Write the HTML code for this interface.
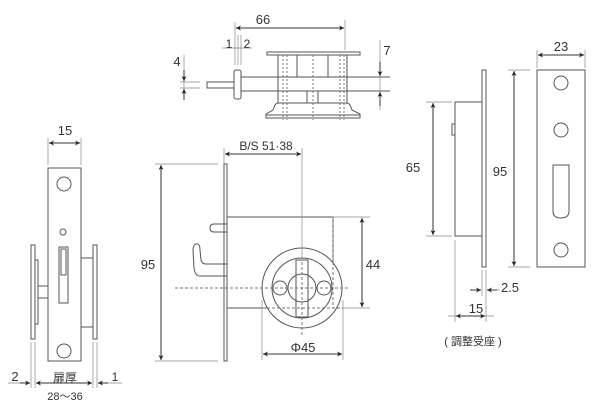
<!DOCTYPE html>
<html><head><meta charset="utf-8"><style>
html,body{margin:0;padding:0;background:#fff;}
svg{display:block;}
text{font-family:"Liberation Sans","Noto Sans CJK JP",sans-serif;fill:#333;}
</style></head><body>
<svg width="600" height="407" viewBox="0 0 600 407" xmlns="http://www.w3.org/2000/svg">
<defs>
<marker id="a" viewBox="0 0 10 10" refX="10" refY="5" markerWidth="7" markerHeight="5" orient="auto-start-reverse" markerUnits="userSpaceOnUse"><path d="M0,0 L10,5 L0,10 L3,5 z" fill="#222"/></marker>
</defs>
<g fill="none" stroke="#555" stroke-width="1">
<!-- TOP VIEW -->
<rect x="267" y="52" width="93" height="3" fill="#fff"/>
<rect x="278" y="55" width="69" height="48"/>
<line x1="297" y1="55" x2="297" y2="77"/><line x1="328" y1="55" x2="328" y2="77"/>
<line x1="307" y1="91" x2="307" y2="103"/><line x1="318" y1="91" x2="318" y2="103"/>
<path d="M266,118 L360,118 L360,114 L352,110 L350,105 Q349,103 346,103 L279,103 Q276,103 275,105 L273,110 L266,114 Z"/>
<line x1="266" y1="115" x2="360" y2="115"/>
<rect x="207" y="82" width="27" height="6"/>
<rect x="234" y="70" width="7" height="29" rx="2"/>
<line x1="241" y1="77" x2="390" y2="77"/><line x1="241" y1="91" x2="390" y2="91"/>
<g stroke-dasharray="2,2" stroke="#777">
<line x1="283" y1="55" x2="283" y2="120"/><line x1="287" y1="55" x2="287" y2="120"/>
<line x1="313" y1="55" x2="313" y2="120"/>
<line x1="340" y1="55" x2="340" y2="120"/><line x1="344" y1="55" x2="344" y2="120"/>
</g>
<!-- top dims -->
<g stroke="#888" stroke-width="0.7">
<line x1="235" y1="22" x2="235" y2="65"/><line x1="345" y1="20" x2="345" y2="50"/>
<line x1="238" y1="35" x2="238" y2="65"/><line x1="241" y1="35" x2="241" y2="65"/>
<line x1="222" y1="48" x2="252" y2="48"/>
<line x1="180" y1="82" x2="200" y2="82"/><line x1="180" y1="88" x2="200" y2="88"/>
<line x1="184" y1="55" x2="184" y2="100"/>
<line x1="380" y1="40" x2="380" y2="110"/>
</g>
<line x1="236" y1="28" x2="344" y2="28" stroke="#333" marker-start="url(#a)" marker-end="url(#a)"/>
<line x1="184" y1="70" x2="184" y2="81" stroke="#333" marker-end="url(#a)"/>
<line x1="184" y1="100" x2="184" y2="89" stroke="#333" marker-end="url(#a)"/>
<line x1="380" y1="62" x2="380" y2="76" stroke="#333" marker-end="url(#a)"/>
<line x1="380" y1="106" x2="380" y2="92" stroke="#333" marker-end="url(#a)"/>

<!-- FRONT VIEW -->
<rect x="224" y="164" width="3" height="197"/>
<rect x="227" y="217" width="106" height="91"/>
<path d="M227,224 L214,224 Q210,224 210,228 Q210,232 214,232 L227,232"/>
<path d="M227,264 L206,264 Q202,264 201,260 L200,250 Q200,243 196,244 Q193,245 193,250 L194,268 Q195,276 200,276 L227,276"/>
<circle cx="302" cy="288" r="40" fill="#fff"/>
<circle cx="302" cy="288" r="30"/>
<circle cx="302" cy="288" r="14"/>
<circle cx="280" cy="288" r="7"/>
<circle cx="324" cy="288" r="7"/>
<rect x="296" y="260" width="12" height="57"/>
<g stroke-dasharray="3,2" stroke="#777">
<line x1="175" y1="288" x2="350" y2="288"/>
<line x1="302" y1="262" x2="302" y2="335"/>
<line x1="333" y1="217" x2="333" y2="308"/>
<line x1="262" y1="308" x2="343" y2="308"/>
</g>
<g stroke="#888" stroke-width="0.7">
<line x1="302" y1="148" x2="302" y2="260"/>
<line x1="224" y1="148" x2="224" y2="164"/>
<line x1="155" y1="164" x2="218" y2="164"/><line x1="155" y1="361" x2="218" y2="361"/>
<line x1="333" y1="217" x2="370" y2="217"/><line x1="343" y1="308" x2="370" y2="308"/>
<line x1="262" y1="300" x2="262" y2="360"/><line x1="343" y1="300" x2="343" y2="360"/>
</g>
<line x1="225" y1="154" x2="301" y2="154" stroke="#333" marker-start="url(#a)" marker-end="url(#a)"/>
<line x1="161" y1="165" x2="161" y2="360" stroke="#333" marker-start="url(#a)" marker-end="url(#a)"/>
<line x1="362" y1="218" x2="362" y2="307" stroke="#333" marker-start="url(#a)" marker-end="url(#a)"/>
<line x1="263" y1="354" x2="342" y2="354" stroke="#333" marker-start="url(#a)" marker-end="url(#a)"/>

<!-- LEFT VIEW -->
<rect x="48" y="168" width="33" height="193"/>
<circle cx="64" cy="184" r="7"/><circle cx="64" cy="351" r="7"/>
<circle cx="63" cy="232" r="3"/>
<rect x="59" y="247" width="9" height="56"/>
<rect x="61" y="249" width="5" height="26"/>
<rect x="31" y="245" width="4" height="94"/>
<rect x="35" y="260" width="3" height="64"/>
<rect x="38" y="286" width="10" height="12"/>
<rect x="93" y="245" width="4" height="94"/>
<line x1="81" y1="258" x2="93" y2="258"/><line x1="81" y1="327" x2="93" y2="327"/>
<g stroke="#888" stroke-width="0.7">
<line x1="48" y1="138" x2="48" y2="165"/><line x1="81" y1="138" x2="81" y2="165"/>
<line x1="31" y1="342" x2="31" y2="388"/><line x1="35" y1="342" x2="35" y2="388"/>
<line x1="93" y1="342" x2="93" y2="388"/><line x1="97" y1="342" x2="97" y2="388"/>
<line x1="8" y1="383" x2="30" y2="383"/><line x1="98" y1="383" x2="122" y2="383"/>
</g>
<line x1="49" y1="143" x2="80" y2="143" stroke="#333" marker-start="url(#a)" marker-end="url(#a)"/>
<line x1="36" y1="383" x2="92" y2="383" stroke="#333" marker-start="url(#a)" marker-end="url(#a)"/>
<line x1="20" y1="383" x2="30" y2="383" stroke="#333" marker-end="url(#a)"/>
<line x1="108" y1="383" x2="98" y2="383" stroke="#333" marker-end="url(#a)"/>

<!-- RIGHT SIDE VIEW -->
<rect x="482" y="70" width="4" height="197"/>
<rect x="455" y="102" width="27" height="134"/>
<rect x="452" y="124" width="3" height="11"/>
<g stroke="#888" stroke-width="0.7">
<line x1="426" y1="102" x2="452" y2="102"/><line x1="426" y1="236" x2="452" y2="236"/>
<line x1="508" y1="70" x2="530" y2="70"/><line x1="508" y1="267" x2="530" y2="267"/>
<line x1="455" y1="240" x2="455" y2="322"/><line x1="482" y1="270" x2="482" y2="296"/><line x1="486" y1="270" x2="486" y2="322"/>
<line x1="537" y1="50" x2="537" y2="68"/><line x1="585" y1="50" x2="585" y2="68"/>
<line x1="470" y1="290" x2="481" y2="290"/><line x1="487" y1="290" x2="500" y2="290"/>
<line x1="448" y1="316" x2="494" y2="316"/>
</g>
<line x1="433" y1="103" x2="433" y2="235" stroke="#333" marker-start="url(#a)" marker-end="url(#a)"/>
<line x1="514" y1="71" x2="514" y2="266" stroke="#333" marker-start="url(#a)" marker-end="url(#a)"/>
<line x1="538" y1="55" x2="584" y2="55" stroke="#333" marker-start="url(#a)" marker-end="url(#a)"/>
<line x1="470" y1="290" x2="481" y2="290" stroke="#333" marker-end="url(#a)"/>
<line x1="497" y1="290" x2="487" y2="290" stroke="#333" marker-end="url(#a)"/>
<line x1="456" y1="316" x2="485" y2="316" stroke="#333" marker-start="url(#a)" marker-end="url(#a)"/>

<!-- STRIKE -->
<rect x="537" y="70" width="48" height="197"/>
<circle cx="561" cy="83" r="7"/><circle cx="561" cy="130" r="7"/><circle cx="561" cy="250" r="7"/>
<path d="M553,165 L569,165 L569,211 Q569,218 561,218 Q553,218 553,211 Z"/>
</g>

<g font-size="13">
<text x="263" y="24" text-anchor="middle">66</text>
<text x="229" y="48" text-anchor="middle" font-size="12">1</text>
<text x="247" y="48" text-anchor="middle" font-size="12">2</text>
<text x="177" y="66" text-anchor="middle">4</text>
<text x="387" y="55" text-anchor="middle">7</text>
<text x="266" y="150" text-anchor="middle" font-size="12">B/S 51·38</text>
<text x="148" y="269" text-anchor="middle">95</text>
<text x="373" y="269" text-anchor="middle">44</text>
<text x="303" y="352" text-anchor="middle">Φ45</text>
<text x="65" y="135" text-anchor="middle">15</text>
<text x="15" y="381" text-anchor="middle">2</text>
<text x="115" y="381" text-anchor="middle" font-size="12">1</text>
<text x="65" y="382" text-anchor="middle" font-size="12">扉厚</text>
<text x="65" y="400" text-anchor="middle" font-size="11">28～36</text>
<text x="413" y="172" text-anchor="middle">65</text>
<text x="500" y="176" text-anchor="middle">95</text>
<text x="561" y="51" text-anchor="middle">23</text>
<text x="510" y="292" text-anchor="middle">2.5</text>
<text x="476" y="313" text-anchor="middle">15</text>
<text x="473" y="345" text-anchor="middle" font-size="11">( 調整受座 )</text>
</g>
</svg>
</body></html>
